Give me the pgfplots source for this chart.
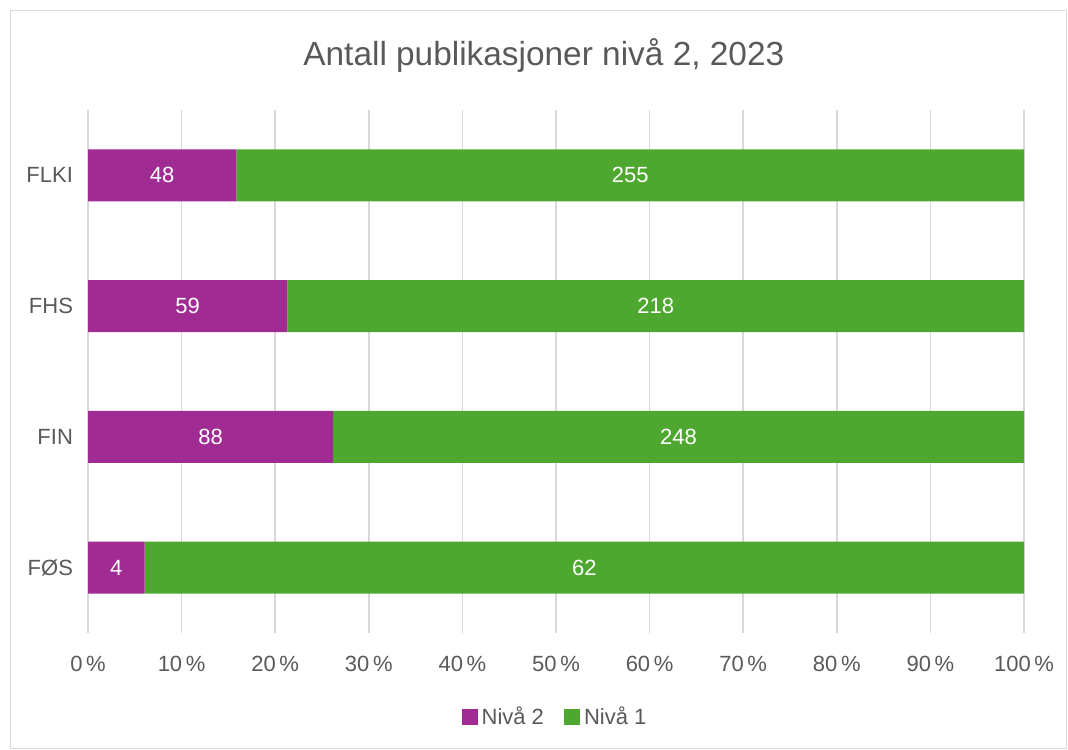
\documentclass[border=0pt]{standalone}
\usepackage{pgfplots}
\pgfplotsset{compat=1.18}
\usepackage{pgfplotstable}
\usepackage{fontspec}
\setmainfont{Liberation Sans}
\definecolor{niva2}{HTML}{A02B93}
\definecolor{niva1}{HTML}{4EA72E}
\definecolor{txt}{HTML}{595959}
\definecolor{gridc}{HTML}{D9D9D9}
\pgfplotstableread{
pos n2 n1 p2 p1
0 4 62 6.06 93.94
1 88 248 26.19 73.81
2 59 218 21.30 78.70
3 48 255 15.84 84.16
}\datatab
\begin{document}
\begin{tikzpicture}
\useasboundingbox (0pt,0pt) rectangle (534pt,374.5pt);
\draw[gridc] (5pt,0.5pt) rectangle (533pt,369.5pt);
\begin{axis}[
  at={(44pt,58pt)}, anchor=south west,
  scale only axis,
  width=468pt, height=261.5pt,
  xbar stacked,
  bar width=26pt,
  xmin=0, xmax=100,
  ymin=-0.5, ymax=3.5,
  xtick={0,10,...,100},
  xticklabel={\pgfmathprintnumber{\tick}\,\%},
  ytick={0,1,2,3},
  yticklabels={FØS,FIN,FHS,FLKI},
  xmajorgrids, major grid style={gridc, line width=0.8pt},
  axis line style={draw=none},
  major tick length=0pt,
  tick label style={font=\fontsize{11}{13}\selectfont, text=txt},
  /pgf/number format/assume math mode=true,
  xticklabel style={yshift=-8pt},
  yticklabel style={xshift=-4pt},
  nodes near coords={\pgfmathprintnumber{\pgfplotspointmeta}},
  point meta=explicit,
  every node near coord/.append style={font=\fontsize{11}{13}\selectfont, text=white},
  legend style={at={(0.5,-0.16)}, anchor=center, draw=none, legend columns=2,
    font=\fontsize{11}{13}\selectfont, text=txt,
    /tikz/every even column/.append style={column sep=8pt}},
  legend image code/.code={\fill[#1] (0pt,-4pt) rectangle (8pt,4pt);},
  clip=false,
]
\addplot[fill=niva2, draw=none] table[x=p2, y=pos, meta=n2] {\datatab};
\addplot[fill=niva1, draw=none] table[x=p1, y=pos, meta=n1] {\datatab};
\legend{Nivå 2, Nivå 1}
\node[font=\fontsize{16.7}{20}\selectfont, text=txt] at (rel axis cs:0.487,1.105) {Antall publikasjoner nivå 2, 2023};
\end{axis}
\end{tikzpicture}
\end{document}
